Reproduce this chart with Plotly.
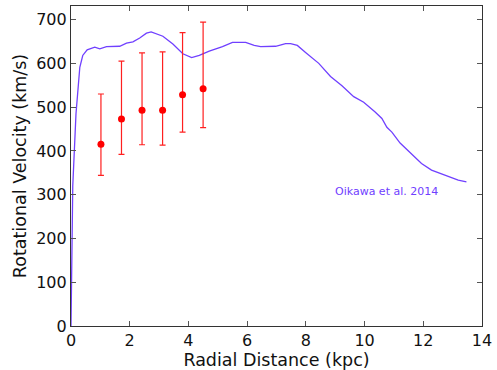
import plotly.graph_objects as go

# Oikawa et al. 2014 rotation curve
curve_x = [0.0, 0.06, 0.17, 0.30, 0.40, 0.55, 0.81, 0.98, 1.21, 1.66, 1.89, 2.11, 2.34, 2.57, 2.73,
           3.13, 3.47, 3.81, 4.11, 4.37, 4.71, 5.16, 5.50, 5.95, 6.24, 6.46, 6.97, 7.31, 7.48,
           7.71, 7.99, 8.44, 8.84, 9.23, 9.63, 9.97, 10.36, 10.59, 10.76, 10.93, 11.21, 11.60,
           11.94, 12.28, 12.73, 13.19, 13.47]
curve_v = [0, 320, 485, 591, 618, 631, 637, 633, 638, 639, 646, 649, 658, 669, 672,
           662, 644, 622, 613, 618, 628, 638, 648, 648, 641, 638, 639, 645, 645,
           641, 625, 600, 570, 549, 524, 511, 489, 474, 454, 443, 418, 394,
           371, 356, 344, 333, 329]

# Data points with asymmetric errors
pts_x = [1.02, 1.72, 2.42, 3.12, 3.80, 4.50]
pts_v = [415, 473, 493, 493, 528, 542]
err_plus = [115, 132, 131, 133, 142, 152]
err_minus = [71, 81, 79, 80, 85, 89]

line_color = "#7040ff"

fig = go.Figure()
fig.add_trace(go.Scatter(x=curve_x, y=curve_v, mode="lines",
                         line=dict(color=line_color, width=1.3), showlegend=False))
fig.add_trace(go.Scatter(x=pts_x, y=pts_v, mode="markers",
                         marker=dict(color="red", size=7),
                         error_y=dict(type="data", symmetric=False, array=err_plus,
                                      arrayminus=err_minus, color="#ff2020", thickness=1.2, width=3),
                         showlegend=False))

fig.add_annotation(x=10.76, y=308, text="Oikawa et al. 2014", showarrow=False,
                   font=dict(color=line_color, size=11, family="DejaVu Sans"))

axis_common = dict(showline=True, linecolor="#333", linewidth=1.2, mirror="ticks",
                   ticks="inside", ticklen=5, tickcolor="#555", showgrid=False, zeroline=False,
                   tickfont=dict(size=16, family="DejaVu Sans", color="#111"))

fig.update_xaxes(range=[0, 14], dtick=2, tick0=0,
                 title=dict(text="Radial Distance (kpc)", standoff=1,
                            font=dict(size=17.5, family="DejaVu Sans", color="#111")),
                 **axis_common)
fig.update_yaxes(range=[0, 731], dtick=100, tick0=0,
                 title=dict(text="Rotational Velocity (km/s)", standoff=5,
                            font=dict(size=17.5, family="DejaVu Sans", color="#111")),
                 **axis_common)

fig.update_layout(width=497, height=370, margin=dict(l=71, r=13, t=5, b=44),
                  plot_bgcolor="white", paper_bgcolor="white")

fig.write_html("out.html", config={"displayModeBar": False},
               post_script="document.body.style.margin='0';document.body.style.padding='0';document.body.style.overflow='hidden';")
